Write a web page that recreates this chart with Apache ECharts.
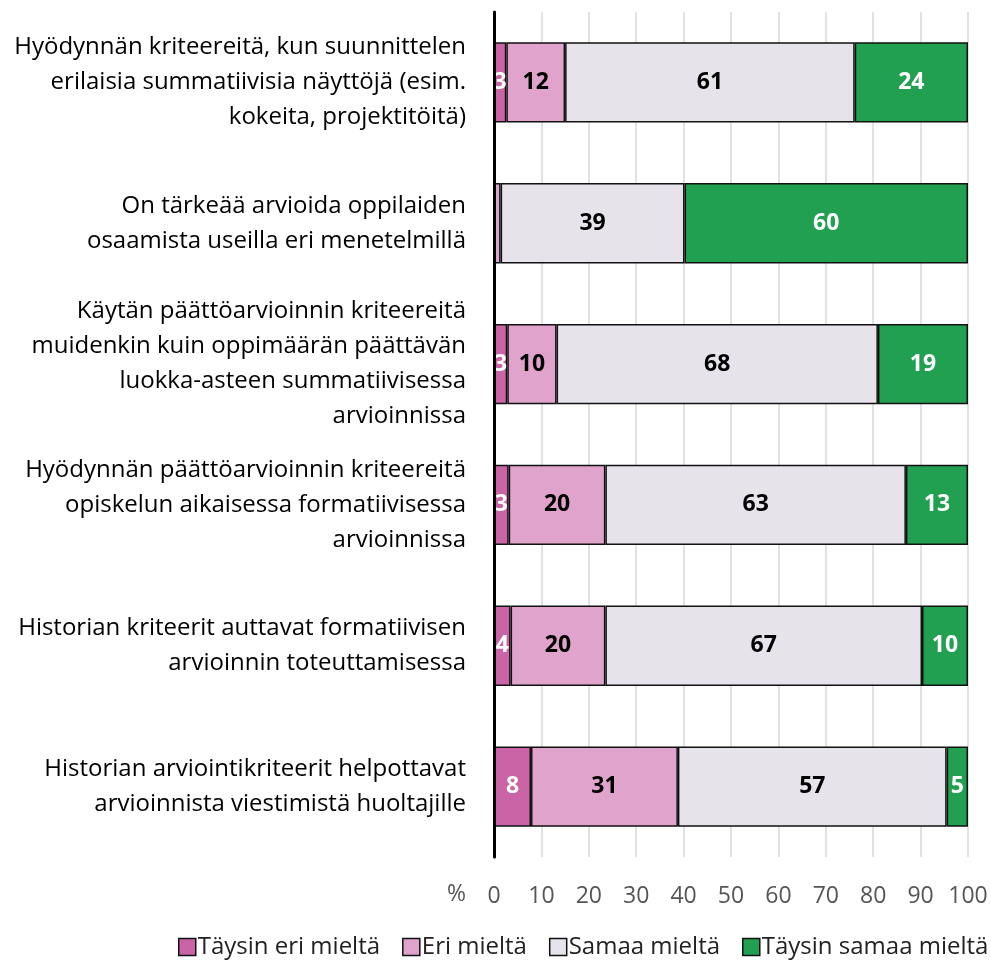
<!DOCTYPE html>
<html>
<head>
<meta charset="utf-8">
<script src="https://cdn.jsdelivr.net/npm/echarts@6/dist/echarts.min.js"></script>
<style>
html,body{margin:0;padding:0;background:#fff;}
#chart{width:991px;height:973px;}
</style>
</head>
<body>
<div id="chart"></div>
<script>
const categories = [
  "Hyödynnän kriteereitä, kun suunnittelen\nerilaisia summatiivisia näyttöjä (esim.\nkokeita, projektitöitä)",
  "On tärkeää arvioida oppilaiden\nosaamista useilla eri menetelmillä",
  "Käytän päättöarvioinnin kriteereitä\nmuidenkin kuin oppimäärän päättävän\nluokka-asteen summatiivisessa\narvioinnissa",
  "Hyödynnän päättöarvioinnin kriteereitä\nopiskelun aikaisessa formatiivisessa\narvioinnissa",
  "Historian kriteerit auttavat formatiivisen\narvioinnin toteuttamisessa",
  "Historian arviointikriteerit helpottavat\narvioinnista viestimistä huoltajille"
];
const seriesNames = ["Täysin eri mieltä", "Eri mieltä", "Samaa mieltä", "Täysin samaa mieltä"];
const taysinEri = [2.6, 0, 2.8, 3.1, 3.5, 7.8];
const eri = [12.4, 1.4, 10.4, 20.4, 20.0, 31.0];
const samaa = [61.1, 38.8, 67.8, 63.4, 66.8, 56.7];
const taysinSamaa = [23.9, 59.8, 19.0, 13.1, 9.7, 4.5];
const xTicks = [0, 10, 20, 30, 40, 50, 60, 70, 80, 90, 100];

const colors = ["#CB64A6", "#E0A3CC", "#E6E3EA", "#22A052"];
const labelColors = ["#ffffff", "#000000", "#000000", "#ffffff"];
const values = [taysinEri, eri, samaa, taysinSamaa];
const FONT = "Open Sans";

const chart = echarts.init(document.getElementById('chart'));
const series = values.map((arr, i) => ({
  name: seriesNames[i],
  type: 'bar',
  stack: 'total',
  data: arr,
  barWidth: '57%',
  itemStyle: { color: colors[i], borderColor: '#111', borderWidth: 1.5 },
  label: {
    show: true,
    position: 'inside',
    color: labelColors[i],
    fontFamily: FONT,
    fontWeight: 'bold',
    fontSize: 23,
    formatter: p => p.value < 2 ? '' : String(Math.round(p.value))
  },
  emphasis: { disabled: true }
}));

chart.setOption({
  animation: false,
  textStyle: { fontFamily: FONT },
  grid: { left: 494, right: 23, top: 12, bottom: 116, containLabel: false },
  xAxis: {
    type: 'value',
    min: 0, max: 100, interval: 10,
    axisLine: { show: false },
    axisTick: { show: false },
    splitLine: { show: true, lineStyle: { color: '#d9d9d9', width: 1.5 } },
    axisLabel: {
      color: '#555', fontSize: 23, fontFamily: FONT, margin: 28,
      formatter: v => xTicks.includes(v) ? String(v) : ''
    },
    name: '%',
    nameLocation: 'start',
    nameGap: 28,
    nameTextStyle: { color: '#555', fontSize: 23, fontFamily: FONT, verticalAlign: 'top', padding: [26, 0, 0, 0] }
  },
  yAxis: {
    type: 'category',
    data: categories,
    inverse: true,
    axisLine: { show: true, lineStyle: { color: '#000', width: 3 } },
    axisTick: { show: false },
    axisLabel: {
      color: '#000', fontSize: 24, fontFamily: FONT, lineHeight: 35, margin: 28, align: 'right'
    },
    z: 10
  },
  legend: {
    left: 178, top: 935, padding: 0,
    itemWidth: 17, itemHeight: 17, itemGap: 22,
    icon: 'rect',
    itemStyle: { borderColor: '#111', borderWidth: 1.5 },
    textStyle: { color: '#222', fontSize: 24, fontFamily: FONT, padding: [0, 0, 0, -3] },
    data: seriesNames
  },
  series: series
});
</script>
</body>
</html>
